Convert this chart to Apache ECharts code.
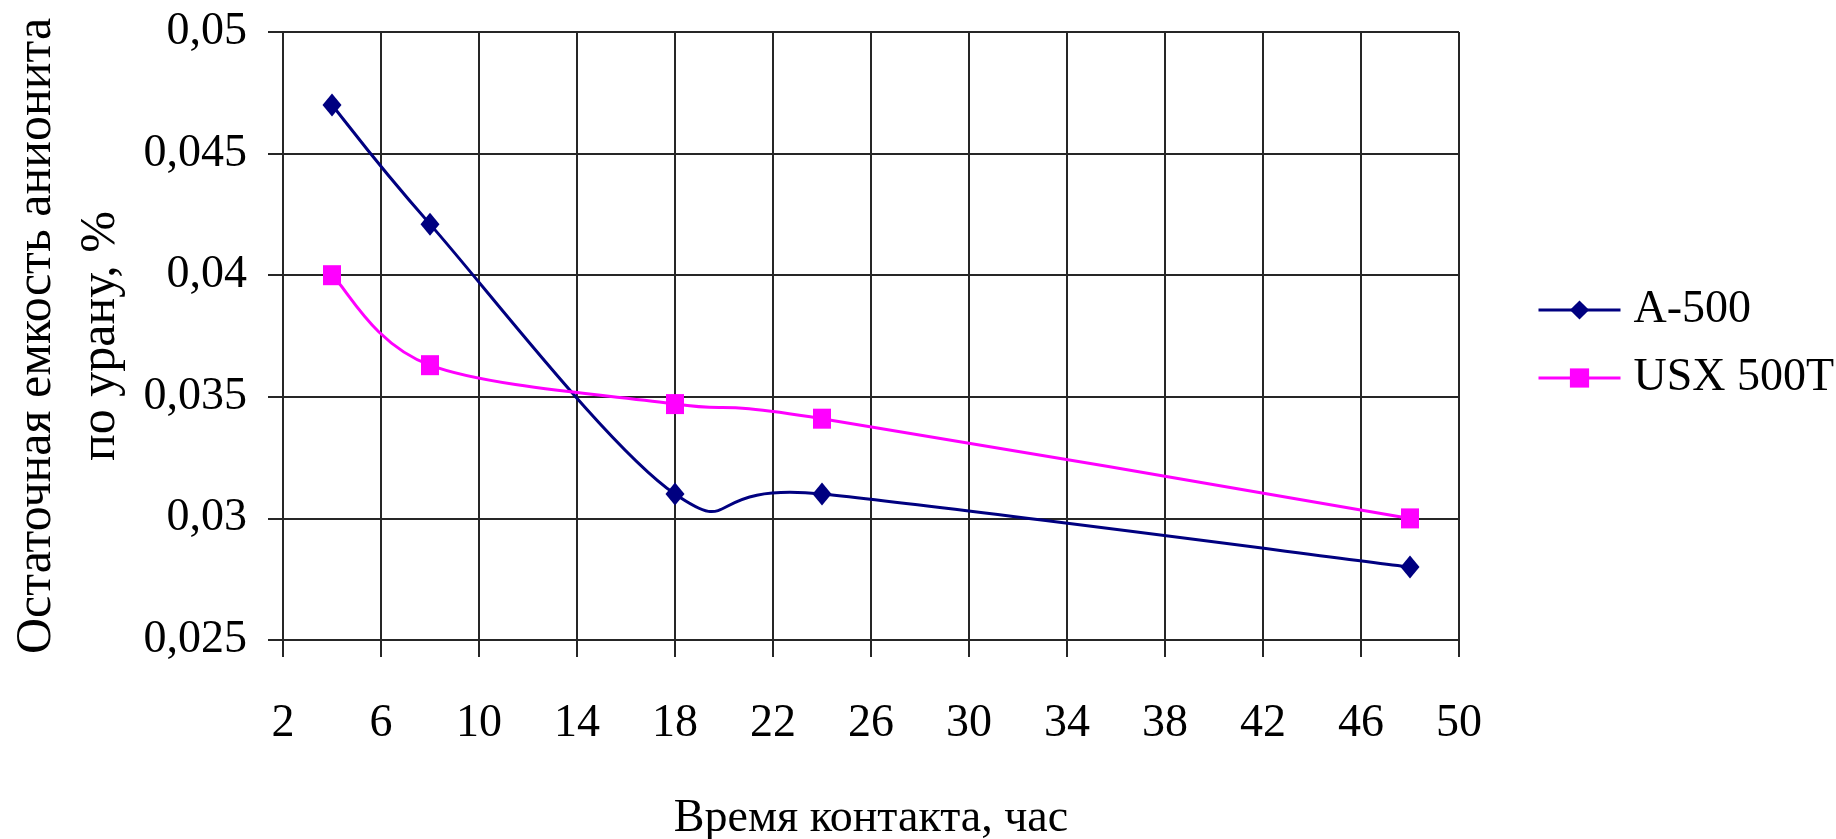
<!DOCTYPE html>
<html>
<head>
<meta charset="utf-8">
<script src="https://cdn.jsdelivr.net/npm/echarts@6/dist/echarts.min.js"></script>
<style>
  html, body { margin: 0; padding: 0; background: #ffffff; }
  #chart { width: 1836px; height: 839px; }
</style>
</head>
<body>
<div id="chart"></div>
<script>
// Contact time, hours
const hours = [4, 8, 18, 24, 48];
// Residual anion-exchanger capacity for uranium, %
const a500 = [0.047, 0.0421, 0.0310, 0.0310, 0.0280];
const usx500t = [0.0400, 0.0363, 0.0347, 0.0341, 0.0300];
const seriesNames = ['A-500', 'USX 500T'];
const seriesColors = ['#000080', '#ff00ff'];

const xTicks = [2, 6, 10, 14, 18, 22, 26, 30, 34, 38, 42, 46, 50];
const yTicks = [0.025, 0.03, 0.035, 0.04, 0.045, 0.05];
const yTickLabels = ['0,025', '0,03', '0,035', '0,04', '0,045', '0,05'];

const FONT = "'Liberation Serif', 'Times New Roman', serif";
const GRID = '#262626';

function pairs(xs, ys) { return xs.map((x, i) => [x, ys[i]]); }
function yLabel(v) {
  const i = yTicks.findIndex(t => Math.abs(t - v) < 1e-9);
  return i >= 0 ? yTickLabels[i] : String(v).replace('.', ',');
}

// Smoothed curve through the projected points: cubic Bezier segments whose
// control points follow the neighbour chord at 1/6 (spreadsheet-style smoothing).
function smoothPath(pts) {
  const n = pts.length;
  const P = i => pts[Math.max(0, Math.min(n - 1, i))];
  let d = 'M' + pts[0][0] + ' ' + pts[0][1];
  for (let i = 0; i < n - 1; i++) {
    const p0 = P(i - 1), p1 = P(i), p2 = P(i + 1), p3 = P(i + 2);
    const c1x = p1[0] + (p2[0] - p0[0]) / 6, c1y = p1[1] + (p2[1] - p0[1]) / 6;
    const c2x = p2[0] - (p3[0] - p1[0]) / 6, c2y = p2[1] - (p3[1] - p1[1]) / 6;
    d += ' C' + c1x + ' ' + c1y + ' ' + c2x + ' ' + c2y + ' ' + p2[0] + ' ' + p2[1];
  }
  return d;
}

function curveSeries(name, ys, color) {
  return {
    name: name + ' curve',
    type: 'custom',
    data: pairs(hours, ys),
    z: 1,
    silent: true,
    renderItem: function (params, api) {
      if (params.dataIndex !== 0) return null;
      const pts = hours.map((h, i) => api.coord([h, ys[i]]));
      return {
        type: 'path',
        shape: { pathData: smoothPath(pts) },
        style: { fill: 'none', stroke: color, lineWidth: 3, lineJoin: 'round' }
      };
    }
  };
}

function markerSeries(name, ys, color, symbol, size, z) {
  return {
    name: name,
    type: 'line',
    data: pairs(hours, ys),
    symbol: symbol,
    symbolSize: size,
    showAllSymbol: true,
    lineStyle: { color: color, width: 3, opacity: 0 },
    itemStyle: { color: color },
    z: z
  };
}

const chart = echarts.init(document.getElementById('chart'), null, { renderer: 'canvas' });
chart.setOption({
  backgroundColor: '#ffffff',
  animation: false,
  textStyle: { fontFamily: FONT, color: '#000' },
  grid: { left: 283, top: 32, right: 377, bottom: 199, containLabel: false, outerBoundsMode: 'none' },
  legend: {
    orient: 'vertical',
    left: 1532,
    top: 282,
    itemWidth: 82,
    itemHeight: 24,
    itemGap: 22,
    data: seriesNames,
    lineStyle: { opacity: 1, width: 3 },
    textStyle: { fontFamily: FONT, fontSize: 46, color: '#000', padding: [0, 0, 0, 8] }
  },
  xAxis: {
    type: 'value',
    min: xTicks[0],
    max: xTicks[xTicks.length - 1],
    name: 'Время контакта, час',
    nameLocation: 'middle',
    nameGap: 156,
    nameTextStyle: { fontFamily: FONT, fontSize: 46, color: '#000' },
    axisLine: { show: true, lineStyle: { color: GRID, width: 2 } },
    axisTick: { show: true, inside: false, length: 17, lineStyle: { color: GRID, width: 2 }, customValues: xTicks },
    axisLabel: { customValues: xTicks, margin: 61, fontFamily: FONT, fontSize: 46, color: '#000' },
    splitLine: { show: true, lineStyle: { color: GRID, width: 2 } }
  },
  yAxis: {
    type: 'value',
    min: yTicks[0],
    max: yTicks[yTicks.length - 1],
    name: 'Остаточная емкость анионита\nпо урану, %',
    nameLocation: 'middle',
    nameRotate: 90,
    nameGap: 150,
    nameTextStyle: { fontFamily: FONT, fontSize: 50, color: '#000', lineHeight: 64, align: 'center' },
    axisLine: { show: true, lineStyle: { color: GRID, width: 2 } },
    axisTick: { show: true, inside: false, length: 15, lineStyle: { color: GRID, width: 2 }, customValues: yTicks },
    axisLabel: { customValues: yTicks, margin: 36, fontFamily: FONT, fontSize: 46, color: '#000', formatter: yLabel, padding: [6, 0, 0, 0] },
    splitLine: { show: true, lineStyle: { color: GRID, width: 2 } }
  },
  series: [
    markerSeries(seriesNames[0], a500, seriesColors[0], 'diamond', [19, 23], 4),
    markerSeries(seriesNames[1], usx500t, seriesColors[1], 'rect', [18, 20], 3),
    curveSeries(seriesNames[0], a500, seriesColors[0]),
    curveSeries(seriesNames[1], usx500t, seriesColors[1])
  ]
});
</script>
</body>
</html>
